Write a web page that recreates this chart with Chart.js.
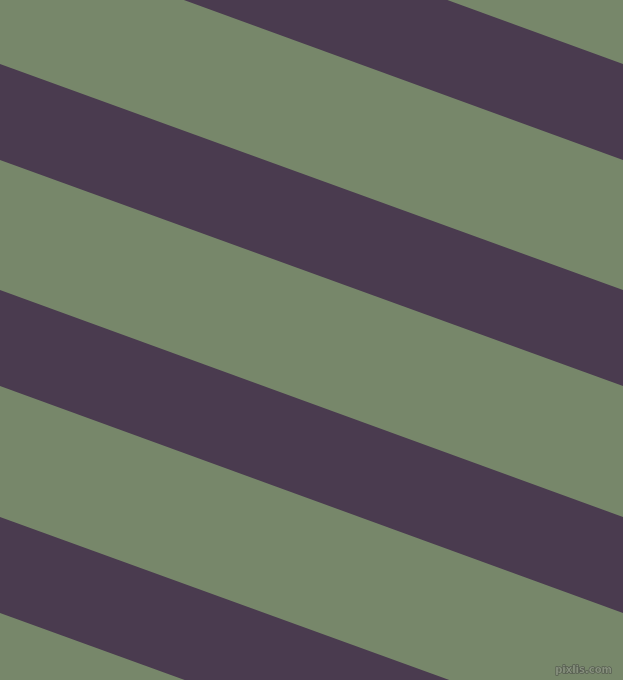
<!DOCTYPE html>
<html>
<head>
<meta charset="utf-8">
<script src="https://cdn.jsdelivr.net/npm/chart.js@4"></script>
<style>
  html, body { margin: 0; padding: 0; background: #77876a; }
  #mainCanvas { display: block; background: #77876a; }
</style>
</head>
<body>
<canvas id="mainCanvas" width="623" height="680"></canvas>
<script>
// stripe edges, y value at the left (x=0) and right (x=623) border
const xEnds = [0, 623];
const topLeft = [-163, 64, 290, 517];
const topRight = [64, 290, 517, 743];
const bottomLeft = [-67, 160, 386, 613];
const bottomRight = [160, 386, 613, 839];

const stripeColor = '#4a3b4f';
const watermark = 'pixlis.com';

let ctx = document.getElementById('mainCanvas').getContext('2d');

// each stripe = top edge line + bottom edge line filled back to it
let datasets = [];
topLeft.forEach((t, i) => {
    datasets.push({
        data: [{ x: xEnds[0], y: t }, { x: xEnds[1], y: topRight[i] }],
        borderWidth: 0,
        pointRadius: 0,
        fill: false,
    });
    datasets.push({
        data: [{ x: xEnds[0], y: bottomLeft[i] }, { x: xEnds[1], y: bottomRight[i] }],
        borderWidth: 0,
        borderColor: stripeColor,
        backgroundColor: stripeColor,
        pointRadius: 0,
        fill: '-1',
    });
});

// small site mark in the corner
const markPlugin = {
    id: 'mark',
    afterDraw(chart) {
        const c = chart.ctx;
        c.save();
        c.font = 'bold 10px "DejaVu Sans"';
        c.textAlign = 'right';
        c.textBaseline = 'bottom';
        c.lineWidth = 1;
        c.strokeStyle = 'rgba(60,60,60,0.8)';
        c.fillStyle = 'rgba(140,150,130,0.9)';
        c.strokeText(watermark, 612, 675);
        c.fillText(watermark, 612, 675);
        c.restore();
    }
};

new Chart(ctx, {
    type: 'line',
    data: { datasets: datasets },
    options: {
        responsive: false,
        animation: false,
        devicePixelRatio: 1,
        layout: { padding: 0 },
        plugins: { legend: { display: false }, tooltip: { enabled: false } },
        elements: { line: { tension: 0 } },
        scales: {
            x: { type: 'linear', min: 0, max: 623, display: false },
            y: { type: 'linear', min: 0, max: 680, reverse: true, display: false },
        },
    },
    plugins: [markPlugin],
});
</script>
</body>
</html>
